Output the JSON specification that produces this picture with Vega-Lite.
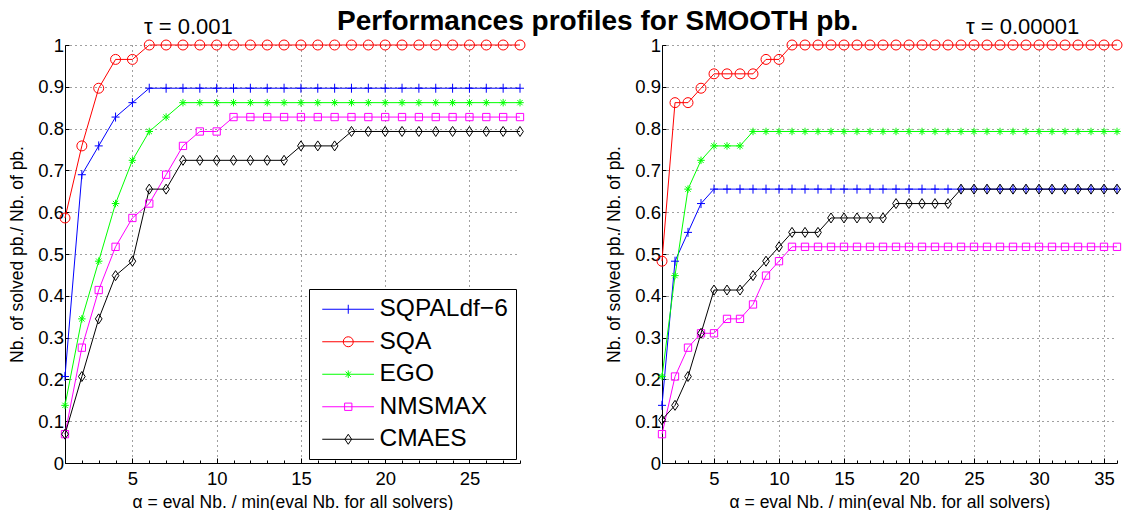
{
"$schema": "https://vega.github.io/schema/vega-lite/v6.json",
"padding": {"left": 8, "top": 8, "right": 0, "bottom": 0},
"title": {"text": "Performances profiles for SMOOTH pb.", "fontSize": 28, "fontWeight": "bold", "font": "Liberation Sans", "color": "black", "anchor": "start", "dx": 329, "offset": -20},
"datasets": {
"left": [
{"solver":"SQPALdf−6","alpha":1,"share":0.2069},{"solver":"SQPALdf−6","alpha":2,"share":0.6897},{"solver":"SQPALdf−6","alpha":3,"share":0.7586},{"solver":"SQPALdf−6","alpha":4,"share":0.8276},{"solver":"SQPALdf−6","alpha":5,"share":0.8621},{"solver":"SQPALdf−6","alpha":6,"share":0.8966},{"solver":"SQPALdf−6","alpha":7,"share":0.8966},{"solver":"SQPALdf−6","alpha":8,"share":0.8966},{"solver":"SQPALdf−6","alpha":9,"share":0.8966},{"solver":"SQPALdf−6","alpha":10,"share":0.8966},{"solver":"SQPALdf−6","alpha":11,"share":0.8966},{"solver":"SQPALdf−6","alpha":12,"share":0.8966},{"solver":"SQPALdf−6","alpha":13,"share":0.8966},{"solver":"SQPALdf−6","alpha":14,"share":0.8966},{"solver":"SQPALdf−6","alpha":15,"share":0.8966},{"solver":"SQPALdf−6","alpha":16,"share":0.8966},{"solver":"SQPALdf−6","alpha":17,"share":0.8966},{"solver":"SQPALdf−6","alpha":18,"share":0.8966},{"solver":"SQPALdf−6","alpha":19,"share":0.8966},{"solver":"SQPALdf−6","alpha":20,"share":0.8966},{"solver":"SQPALdf−6","alpha":21,"share":0.8966},{"solver":"SQPALdf−6","alpha":22,"share":0.8966},{"solver":"SQPALdf−6","alpha":23,"share":0.8966},{"solver":"SQPALdf−6","alpha":24,"share":0.8966},{"solver":"SQPALdf−6","alpha":25,"share":0.8966},{"solver":"SQPALdf−6","alpha":26,"share":0.8966},{"solver":"SQPALdf−6","alpha":27,"share":0.8966},{"solver":"SQPALdf−6","alpha":28,"share":0.8966},
{"solver":"SQA","alpha":1,"share":0.5862},{"solver":"SQA","alpha":2,"share":0.7586},{"solver":"SQA","alpha":3,"share":0.8966},{"solver":"SQA","alpha":4,"share":0.9655},{"solver":"SQA","alpha":5,"share":0.9655},{"solver":"SQA","alpha":6,"share":1},{"solver":"SQA","alpha":7,"share":1},{"solver":"SQA","alpha":8,"share":1},{"solver":"SQA","alpha":9,"share":1},{"solver":"SQA","alpha":10,"share":1},{"solver":"SQA","alpha":11,"share":1},{"solver":"SQA","alpha":12,"share":1},{"solver":"SQA","alpha":13,"share":1},{"solver":"SQA","alpha":14,"share":1},{"solver":"SQA","alpha":15,"share":1},{"solver":"SQA","alpha":16,"share":1},{"solver":"SQA","alpha":17,"share":1},{"solver":"SQA","alpha":18,"share":1},{"solver":"SQA","alpha":19,"share":1},{"solver":"SQA","alpha":20,"share":1},{"solver":"SQA","alpha":21,"share":1},{"solver":"SQA","alpha":22,"share":1},{"solver":"SQA","alpha":23,"share":1},{"solver":"SQA","alpha":24,"share":1},{"solver":"SQA","alpha":25,"share":1},{"solver":"SQA","alpha":26,"share":1},{"solver":"SQA","alpha":27,"share":1},{"solver":"SQA","alpha":28,"share":1},
{"solver":"EGO","alpha":1,"share":0.1379},{"solver":"EGO","alpha":2,"share":0.3448},{"solver":"EGO","alpha":3,"share":0.4828},{"solver":"EGO","alpha":4,"share":0.6207},{"solver":"EGO","alpha":5,"share":0.7241},{"solver":"EGO","alpha":6,"share":0.7931},{"solver":"EGO","alpha":7,"share":0.8276},{"solver":"EGO","alpha":8,"share":0.8621},{"solver":"EGO","alpha":9,"share":0.8621},{"solver":"EGO","alpha":10,"share":0.8621},{"solver":"EGO","alpha":11,"share":0.8621},{"solver":"EGO","alpha":12,"share":0.8621},{"solver":"EGO","alpha":13,"share":0.8621},{"solver":"EGO","alpha":14,"share":0.8621},{"solver":"EGO","alpha":15,"share":0.8621},{"solver":"EGO","alpha":16,"share":0.8621},{"solver":"EGO","alpha":17,"share":0.8621},{"solver":"EGO","alpha":18,"share":0.8621},{"solver":"EGO","alpha":19,"share":0.8621},{"solver":"EGO","alpha":20,"share":0.8621},{"solver":"EGO","alpha":21,"share":0.8621},{"solver":"EGO","alpha":22,"share":0.8621},{"solver":"EGO","alpha":23,"share":0.8621},{"solver":"EGO","alpha":24,"share":0.8621},{"solver":"EGO","alpha":25,"share":0.8621},{"solver":"EGO","alpha":26,"share":0.8621},{"solver":"EGO","alpha":27,"share":0.8621},{"solver":"EGO","alpha":28,"share":0.8621},
{"solver":"NMSMAX","alpha":1,"share":0.069},{"solver":"NMSMAX","alpha":2,"share":0.2759},{"solver":"NMSMAX","alpha":3,"share":0.4138},{"solver":"NMSMAX","alpha":4,"share":0.5172},{"solver":"NMSMAX","alpha":5,"share":0.5862},{"solver":"NMSMAX","alpha":6,"share":0.6207},{"solver":"NMSMAX","alpha":7,"share":0.6897},{"solver":"NMSMAX","alpha":8,"share":0.7586},{"solver":"NMSMAX","alpha":9,"share":0.7931},{"solver":"NMSMAX","alpha":10,"share":0.7931},{"solver":"NMSMAX","alpha":11,"share":0.8276},{"solver":"NMSMAX","alpha":12,"share":0.8276},{"solver":"NMSMAX","alpha":13,"share":0.8276},{"solver":"NMSMAX","alpha":14,"share":0.8276},{"solver":"NMSMAX","alpha":15,"share":0.8276},{"solver":"NMSMAX","alpha":16,"share":0.8276},{"solver":"NMSMAX","alpha":17,"share":0.8276},{"solver":"NMSMAX","alpha":18,"share":0.8276},{"solver":"NMSMAX","alpha":19,"share":0.8276},{"solver":"NMSMAX","alpha":20,"share":0.8276},{"solver":"NMSMAX","alpha":21,"share":0.8276},{"solver":"NMSMAX","alpha":22,"share":0.8276},{"solver":"NMSMAX","alpha":23,"share":0.8276},{"solver":"NMSMAX","alpha":24,"share":0.8276},{"solver":"NMSMAX","alpha":25,"share":0.8276},{"solver":"NMSMAX","alpha":26,"share":0.8276},{"solver":"NMSMAX","alpha":27,"share":0.8276},{"solver":"NMSMAX","alpha":28,"share":0.8276},
{"solver":"CMAES","alpha":1,"share":0.069},{"solver":"CMAES","alpha":2,"share":0.2069},{"solver":"CMAES","alpha":3,"share":0.3448},{"solver":"CMAES","alpha":4,"share":0.4483},{"solver":"CMAES","alpha":5,"share":0.4828},{"solver":"CMAES","alpha":6,"share":0.6552},{"solver":"CMAES","alpha":7,"share":0.6552},{"solver":"CMAES","alpha":8,"share":0.7241},{"solver":"CMAES","alpha":9,"share":0.7241},{"solver":"CMAES","alpha":10,"share":0.7241},{"solver":"CMAES","alpha":11,"share":0.7241},{"solver":"CMAES","alpha":12,"share":0.7241},{"solver":"CMAES","alpha":13,"share":0.7241},{"solver":"CMAES","alpha":14,"share":0.7241},{"solver":"CMAES","alpha":15,"share":0.7586},{"solver":"CMAES","alpha":16,"share":0.7586},{"solver":"CMAES","alpha":17,"share":0.7586},{"solver":"CMAES","alpha":18,"share":0.7931},{"solver":"CMAES","alpha":19,"share":0.7931},{"solver":"CMAES","alpha":20,"share":0.7931},{"solver":"CMAES","alpha":21,"share":0.7931},{"solver":"CMAES","alpha":22,"share":0.7931},{"solver":"CMAES","alpha":23,"share":0.7931},{"solver":"CMAES","alpha":24,"share":0.7931},{"solver":"CMAES","alpha":25,"share":0.7931},{"solver":"CMAES","alpha":26,"share":0.7931},{"solver":"CMAES","alpha":27,"share":0.7931},{"solver":"CMAES","alpha":28,"share":0.7931}
],
"right": [
{"solver":"SQPALdf−6","alpha":1,"share":0.1379},{"solver":"SQPALdf−6","alpha":2,"share":0.4828},{"solver":"SQPALdf−6","alpha":3,"share":0.5517},{"solver":"SQPALdf−6","alpha":4,"share":0.6207},{"solver":"SQPALdf−6","alpha":5,"share":0.6552},{"solver":"SQPALdf−6","alpha":6,"share":0.6552},{"solver":"SQPALdf−6","alpha":7,"share":0.6552},{"solver":"SQPALdf−6","alpha":8,"share":0.6552},{"solver":"SQPALdf−6","alpha":9,"share":0.6552},{"solver":"SQPALdf−6","alpha":10,"share":0.6552},{"solver":"SQPALdf−6","alpha":11,"share":0.6552},{"solver":"SQPALdf−6","alpha":12,"share":0.6552},{"solver":"SQPALdf−6","alpha":13,"share":0.6552},{"solver":"SQPALdf−6","alpha":14,"share":0.6552},{"solver":"SQPALdf−6","alpha":15,"share":0.6552},{"solver":"SQPALdf−6","alpha":16,"share":0.6552},{"solver":"SQPALdf−6","alpha":17,"share":0.6552},{"solver":"SQPALdf−6","alpha":18,"share":0.6552},{"solver":"SQPALdf−6","alpha":19,"share":0.6552},{"solver":"SQPALdf−6","alpha":20,"share":0.6552},{"solver":"SQPALdf−6","alpha":21,"share":0.6552},{"solver":"SQPALdf−6","alpha":22,"share":0.6552},{"solver":"SQPALdf−6","alpha":23,"share":0.6552},{"solver":"SQPALdf−6","alpha":24,"share":0.6552},{"solver":"SQPALdf−6","alpha":25,"share":0.6552},{"solver":"SQPALdf−6","alpha":26,"share":0.6552},{"solver":"SQPALdf−6","alpha":27,"share":0.6552},{"solver":"SQPALdf−6","alpha":28,"share":0.6552},{"solver":"SQPALdf−6","alpha":29,"share":0.6552},{"solver":"SQPALdf−6","alpha":30,"share":0.6552},{"solver":"SQPALdf−6","alpha":31,"share":0.6552},{"solver":"SQPALdf−6","alpha":32,"share":0.6552},{"solver":"SQPALdf−6","alpha":33,"share":0.6552},{"solver":"SQPALdf−6","alpha":34,"share":0.6552},{"solver":"SQPALdf−6","alpha":35,"share":0.6552},{"solver":"SQPALdf−6","alpha":36,"share":0.6552},
{"solver":"SQA","alpha":1,"share":0.4828},{"solver":"SQA","alpha":2,"share":0.8621},{"solver":"SQA","alpha":3,"share":0.8621},{"solver":"SQA","alpha":4,"share":0.8966},{"solver":"SQA","alpha":5,"share":0.931},{"solver":"SQA","alpha":6,"share":0.931},{"solver":"SQA","alpha":7,"share":0.931},{"solver":"SQA","alpha":8,"share":0.931},{"solver":"SQA","alpha":9,"share":0.9655},{"solver":"SQA","alpha":10,"share":0.9655},{"solver":"SQA","alpha":11,"share":1},{"solver":"SQA","alpha":12,"share":1},{"solver":"SQA","alpha":13,"share":1},{"solver":"SQA","alpha":14,"share":1},{"solver":"SQA","alpha":15,"share":1},{"solver":"SQA","alpha":16,"share":1},{"solver":"SQA","alpha":17,"share":1},{"solver":"SQA","alpha":18,"share":1},{"solver":"SQA","alpha":19,"share":1},{"solver":"SQA","alpha":20,"share":1},{"solver":"SQA","alpha":21,"share":1},{"solver":"SQA","alpha":22,"share":1},{"solver":"SQA","alpha":23,"share":1},{"solver":"SQA","alpha":24,"share":1},{"solver":"SQA","alpha":25,"share":1},{"solver":"SQA","alpha":26,"share":1},{"solver":"SQA","alpha":27,"share":1},{"solver":"SQA","alpha":28,"share":1},{"solver":"SQA","alpha":29,"share":1},{"solver":"SQA","alpha":30,"share":1},{"solver":"SQA","alpha":31,"share":1},{"solver":"SQA","alpha":32,"share":1},{"solver":"SQA","alpha":33,"share":1},{"solver":"SQA","alpha":34,"share":1},{"solver":"SQA","alpha":35,"share":1},{"solver":"SQA","alpha":36,"share":1},
{"solver":"EGO","alpha":1,"share":0.2069},{"solver":"EGO","alpha":2,"share":0.4483},{"solver":"EGO","alpha":3,"share":0.6552},{"solver":"EGO","alpha":4,"share":0.7241},{"solver":"EGO","alpha":5,"share":0.7586},{"solver":"EGO","alpha":6,"share":0.7586},{"solver":"EGO","alpha":7,"share":0.7586},{"solver":"EGO","alpha":8,"share":0.7931},{"solver":"EGO","alpha":9,"share":0.7931},{"solver":"EGO","alpha":10,"share":0.7931},{"solver":"EGO","alpha":11,"share":0.7931},{"solver":"EGO","alpha":12,"share":0.7931},{"solver":"EGO","alpha":13,"share":0.7931},{"solver":"EGO","alpha":14,"share":0.7931},{"solver":"EGO","alpha":15,"share":0.7931},{"solver":"EGO","alpha":16,"share":0.7931},{"solver":"EGO","alpha":17,"share":0.7931},{"solver":"EGO","alpha":18,"share":0.7931},{"solver":"EGO","alpha":19,"share":0.7931},{"solver":"EGO","alpha":20,"share":0.7931},{"solver":"EGO","alpha":21,"share":0.7931},{"solver":"EGO","alpha":22,"share":0.7931},{"solver":"EGO","alpha":23,"share":0.7931},{"solver":"EGO","alpha":24,"share":0.7931},{"solver":"EGO","alpha":25,"share":0.7931},{"solver":"EGO","alpha":26,"share":0.7931},{"solver":"EGO","alpha":27,"share":0.7931},{"solver":"EGO","alpha":28,"share":0.7931},{"solver":"EGO","alpha":29,"share":0.7931},{"solver":"EGO","alpha":30,"share":0.7931},{"solver":"EGO","alpha":31,"share":0.7931},{"solver":"EGO","alpha":32,"share":0.7931},{"solver":"EGO","alpha":33,"share":0.7931},{"solver":"EGO","alpha":34,"share":0.7931},{"solver":"EGO","alpha":35,"share":0.7931},{"solver":"EGO","alpha":36,"share":0.7931},
{"solver":"NMSMAX","alpha":1,"share":0.069},{"solver":"NMSMAX","alpha":2,"share":0.2069},{"solver":"NMSMAX","alpha":3,"share":0.2759},{"solver":"NMSMAX","alpha":4,"share":0.3103},{"solver":"NMSMAX","alpha":5,"share":0.3103},{"solver":"NMSMAX","alpha":6,"share":0.3448},{"solver":"NMSMAX","alpha":7,"share":0.3448},{"solver":"NMSMAX","alpha":8,"share":0.3793},{"solver":"NMSMAX","alpha":9,"share":0.4483},{"solver":"NMSMAX","alpha":10,"share":0.4828},{"solver":"NMSMAX","alpha":11,"share":0.5172},{"solver":"NMSMAX","alpha":12,"share":0.5172},{"solver":"NMSMAX","alpha":13,"share":0.5172},{"solver":"NMSMAX","alpha":14,"share":0.5172},{"solver":"NMSMAX","alpha":15,"share":0.5172},{"solver":"NMSMAX","alpha":16,"share":0.5172},{"solver":"NMSMAX","alpha":17,"share":0.5172},{"solver":"NMSMAX","alpha":18,"share":0.5172},{"solver":"NMSMAX","alpha":19,"share":0.5172},{"solver":"NMSMAX","alpha":20,"share":0.5172},{"solver":"NMSMAX","alpha":21,"share":0.5172},{"solver":"NMSMAX","alpha":22,"share":0.5172},{"solver":"NMSMAX","alpha":23,"share":0.5172},{"solver":"NMSMAX","alpha":24,"share":0.5172},{"solver":"NMSMAX","alpha":25,"share":0.5172},{"solver":"NMSMAX","alpha":26,"share":0.5172},{"solver":"NMSMAX","alpha":27,"share":0.5172},{"solver":"NMSMAX","alpha":28,"share":0.5172},{"solver":"NMSMAX","alpha":29,"share":0.5172},{"solver":"NMSMAX","alpha":30,"share":0.5172},{"solver":"NMSMAX","alpha":31,"share":0.5172},{"solver":"NMSMAX","alpha":32,"share":0.5172},{"solver":"NMSMAX","alpha":33,"share":0.5172},{"solver":"NMSMAX","alpha":34,"share":0.5172},{"solver":"NMSMAX","alpha":35,"share":0.5172},{"solver":"NMSMAX","alpha":36,"share":0.5172},
{"solver":"CMAES","alpha":1,"share":0.1034},{"solver":"CMAES","alpha":2,"share":0.1379},{"solver":"CMAES","alpha":3,"share":0.2069},{"solver":"CMAES","alpha":4,"share":0.3103},{"solver":"CMAES","alpha":5,"share":0.4138},{"solver":"CMAES","alpha":6,"share":0.4138},{"solver":"CMAES","alpha":7,"share":0.4138},{"solver":"CMAES","alpha":8,"share":0.4483},{"solver":"CMAES","alpha":9,"share":0.4828},{"solver":"CMAES","alpha":10,"share":0.5172},{"solver":"CMAES","alpha":11,"share":0.5517},{"solver":"CMAES","alpha":12,"share":0.5517},{"solver":"CMAES","alpha":13,"share":0.5517},{"solver":"CMAES","alpha":14,"share":0.5862},{"solver":"CMAES","alpha":15,"share":0.5862},{"solver":"CMAES","alpha":16,"share":0.5862},{"solver":"CMAES","alpha":17,"share":0.5862},{"solver":"CMAES","alpha":18,"share":0.5862},{"solver":"CMAES","alpha":19,"share":0.6207},{"solver":"CMAES","alpha":20,"share":0.6207},{"solver":"CMAES","alpha":21,"share":0.6207},{"solver":"CMAES","alpha":22,"share":0.6207},{"solver":"CMAES","alpha":23,"share":0.6207},{"solver":"CMAES","alpha":24,"share":0.6552},{"solver":"CMAES","alpha":25,"share":0.6552},{"solver":"CMAES","alpha":26,"share":0.6552},{"solver":"CMAES","alpha":27,"share":0.6552},{"solver":"CMAES","alpha":28,"share":0.6552},{"solver":"CMAES","alpha":29,"share":0.6552},{"solver":"CMAES","alpha":30,"share":0.6552},{"solver":"CMAES","alpha":31,"share":0.6552},{"solver":"CMAES","alpha":32,"share":0.6552},{"solver":"CMAES","alpha":33,"share":0.6552},{"solver":"CMAES","alpha":34,"share":0.6552},{"solver":"CMAES","alpha":35,"share":0.6552},{"solver":"CMAES","alpha":36,"share":0.6552}
]
},
"spacing": 78,
"resolve": {"scale": {"color": "independent", "shape": "independent"}},
"hconcat": [
{
"width": 455, "height": 418,
"data": {"name": "left"},
"title": {"text": "τ = 0.001", "anchor": "start", "frame": "group", "dx": 79, "fontSize": 22, "fontWeight": "normal", "offset": -3},
"resolve": {"scale": {"color": "independent", "shape": "independent"}, "axis": {"x": "independent"}},
"layer": [
{"mark": {"type": "line", "strokeWidth": 1},
 "encoding": {
  "x": {"field": "alpha", "type": "quantitative", "scale": {"domain": [1, 28], "nice": false, "zero": false},
        "axis": {"title": "α = eval Nb. / min(eval Nb. for all solvers)", "values": [5,10,15,20,25], "tickSize": -5}},
  "y": {"field": "share", "type": "quantitative", "scale": {"domain": [0, 1], "nice": false},
        "axis": {"title": "Nb. of solved pb./ Nb. of pb.", "values": [0,0.1,0.2,0.3,0.4,0.5,0.6,0.7,0.8,0.9,1], "format": "~g"}},
  "color": {"field": "solver", "type": "nominal", "sort": null, "legend": null,
            "scale": {"domain": ["SQPALdf−6","SQA","EGO","NMSMAX","CMAES"], "range": ["#0000ff","#ff0000","#00ff00","#ff00ff","#000000"]}}
 }},
{"mark": {"type": "point", "filled": false, "size": 100, "strokeWidth": 1, "opacity": 1},
 "encoding": {
  "x": {"field": "alpha", "type": "quantitative",
        "axis": {"orient": "bottom", "values": [1,2,3,4,5,6,7,8,9,10,11,12,13,14,15,16,17,18,19,20,21,22,23,24,25,26,27,28], "labels": false, "grid": false, "domain": false, "title": null, "tickSize": -3}},
  "y": {"field": "share", "type": "quantitative"},
  "color": {"field": "solver", "type": "nominal", "sort": null, "legend": null,
            "scale": {"domain": ["SQPALdf−6","SQA","EGO","NMSMAX","CMAES"], "range": ["#0000ff","#ff0000","#00ff00","#ff00ff","#000000"]}},
  "shape": {"field": "solver", "type": "nominal", "sort": null, "legend": null,
            "scale": {"domain": ["SQPALdf−6","SQA","EGO","NMSMAX","CMAES"], "range": ["M-0.8,0H0.8M0,-0.9V0.9", "M1,0A1,1 0 1 1 -1,0A1,1 0 1 1 1,0Z", "M-0.75,0H0.75M0,-0.75V0.75M-0.53,-0.53L0.53,0.53M-0.53,0.53L0.53,-0.53", "M-0.73,-0.73H0.73V0.73H-0.73Z", "M0,-1L0.67,0L0,1L-0.67,0Z"]}}
 }},
{"transform": [{"filter": "datum.alpha > 1000"}],
 "mark": {"type": "point", "filled": false, "size": 100, "strokeWidth": 1, "opacity": 1},
 "encoding": {
  "x": {"field": "alpha", "type": "quantitative", "axis": null},
  "y": {"field": "share", "type": "quantitative"},
  "color": {"field": "solver", "type": "nominal", "sort": null,
            "scale": {"domain": ["SQPALdf−6","SQA","EGO","NMSMAX","CMAES"], "range": ["#0000ff","#ff0000","#00ff00","#ff00ff","#000000"]},
            "legend": {"title": null, "orient": "none", "legendX": 244, "legendY": 244}},
  "shape": {"field": "solver", "type": "nominal", "sort": null,
            "scale": {"domain": ["SQPALdf−6","SQA","EGO","NMSMAX","CMAES"], "range": ["M-1.4,0H8.94M3.8,-0.9V0.9", "M-1.4,0H8.94M4.8,0A1,1 0 1 1 2.8,0A1,1 0 1 1 4.8,0", "M-1.4,0H8.94M3.8,-0.75V0.75M3.27,-0.53L4.33,0.53M3.27,0.53L4.33,-0.53", "M-1.4,0H8.94M3.07,-0.73H4.53V0.73H3.07Z", "M-1.4,0H8.94M3.8,-1L4.47,0L3.8,1L3.13,0Z"]},
            "legend": {"title": null, "orient": "none", "legendX": 244, "legendY": 244}}
 }}
]
},
{
"width": 455, "height": 418,
"data": {"name": "right"},
"title": {"text": "τ = 0.00001", "anchor": "start", "frame": "group", "dx": 304, "fontSize": 22, "fontWeight": "normal", "offset": -3},
"resolve": {"axis": {"x": "independent"}},
"layer": [
{"mark": {"type": "line", "strokeWidth": 1},
 "encoding": {
  "x": {"field": "alpha", "type": "quantitative", "scale": {"domain": [1, 36], "nice": false, "zero": false},
        "axis": {"title": "α = eval Nb. / min(eval Nb. for all solvers)", "values": [5,10,15,20,25,30,35], "tickSize": -5}},
  "y": {"field": "share", "type": "quantitative", "scale": {"domain": [0, 1], "nice": false},
        "axis": {"title": "Nb. of solved pb./ Nb. of pb.", "values": [0,0.1,0.2,0.3,0.4,0.5,0.6,0.7,0.8,0.9,1], "format": "~g"}},
  "color": {"field": "solver", "type": "nominal", "sort": null, "legend": null,
            "scale": {"domain": ["SQPALdf−6","SQA","EGO","NMSMAX","CMAES"], "range": ["#0000ff","#ff0000","#00ff00","#ff00ff","#000000"]}}
 }},
{"mark": {"type": "point", "filled": false, "size": 100, "strokeWidth": 1, "opacity": 1},
 "encoding": {
  "x": {"field": "alpha", "type": "quantitative",
        "axis": {"orient": "bottom", "values": [1,2,3,4,5,6,7,8,9,10,11,12,13,14,15,16,17,18,19,20,21,22,23,24,25,26,27,28,29,30,31,32,33,34,35,36], "labels": false, "grid": false, "domain": false, "title": null, "tickSize": -3}},
  "y": {"field": "share", "type": "quantitative"},
  "color": {"field": "solver", "type": "nominal", "sort": null, "legend": null,
            "scale": {"domain": ["SQPALdf−6","SQA","EGO","NMSMAX","CMAES"], "range": ["#0000ff","#ff0000","#00ff00","#ff00ff","#000000"]}},
  "shape": {"field": "solver", "type": "nominal", "sort": null, "legend": null,
            "scale": {"domain": ["SQPALdf−6","SQA","EGO","NMSMAX","CMAES"], "range": ["M-0.8,0H0.8M0,-0.9V0.9", "M1,0A1,1 0 1 1 -1,0A1,1 0 1 1 1,0Z", "M-0.75,0H0.75M0,-0.75V0.75M-0.53,-0.53L0.53,0.53M-0.53,0.53L0.53,-0.53", "M-0.73,-0.73H0.73V0.73H-0.73Z", "M0,-1L0.67,0L0,1L-0.67,0Z"]}}
 }}
]
}
],
"config": {
 "font": "Liberation Sans",
 "background": "white",
 "view": {"stroke": null},
 "title": {"color": "black", "font": "Liberation Sans"},
 "axis": {"domainColor": "black", "domainWidth": 1, "tickColor": "black", "tickWidth": 1, "labelColor": "black", "titleColor": "black", "labelFont": "Liberation Sans", "titleFont": "Liberation Sans", "labelFontSize": 18.5, "titleFontSize": 17.5, "titleFontWeight": "normal", "grid": true, "gridColor": "black", "gridDash": [1, 4], "gridOpacity": 0.75, "gridWidth": 1, "labelFlush": false, "labelOverlap": false},
 "axisX": {"labelPadding": 11.5, "minExtent": 22, "maxExtent": 22, "titlePadding": 8},
 "axisY": {"tickSize": -4, "labelPadding": 5.5, "minExtent": 30, "maxExtent": 30, "titlePadding": 9},
 "legend": {"strokeColor": "black", "fillColor": "white", "padding": 8, "cornerRadius": 0, "labelFont": "Liberation Sans", "labelFontSize": 24.5, "labelColor": "black", "labelLimit": 300, "symbolStrokeWidth": 1, "symbolOffset": 0, "labelOffset": 38, "rowPadding": 7.5}
}
}
